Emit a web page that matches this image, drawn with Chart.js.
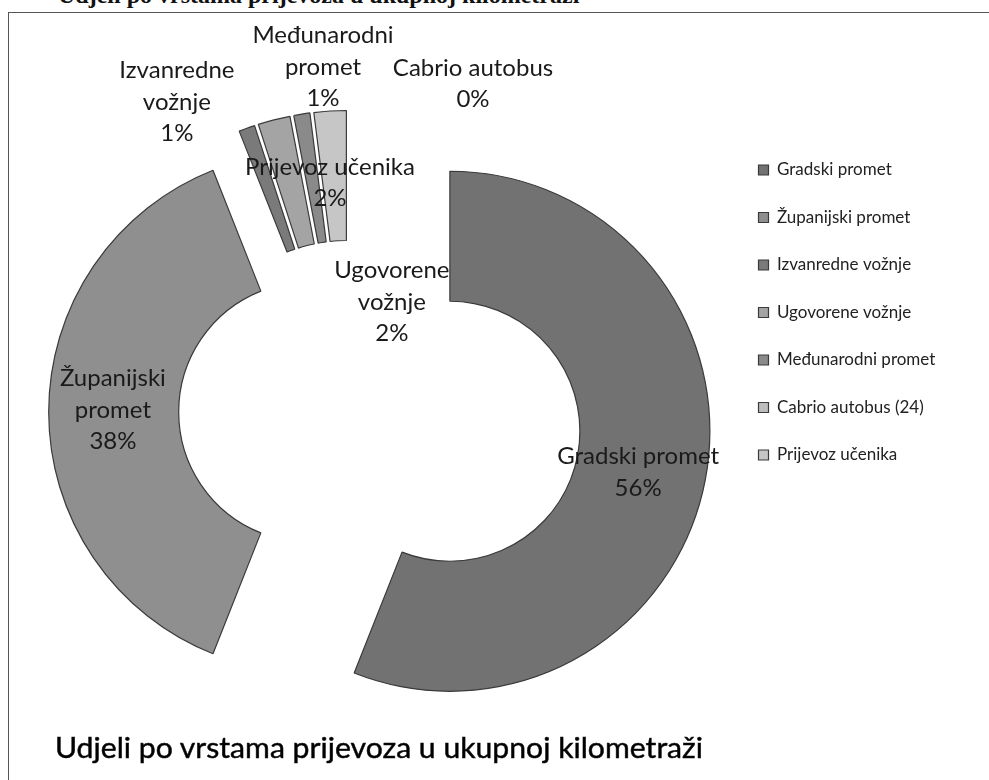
<!DOCTYPE html>
<html lang="hr">
<head>
<meta charset="UTF-8">
<title>Udjeli po vrstama prijevoza u ukupnoj kilometraži</title>
<script src="https://cdn.jsdelivr.net/npm/chart.js"></script>
<style>
  * { margin: 0; padding: 0; box-sizing: border-box; }
  html, body { width: 989px; height: 780px; overflow: hidden; background: #fff; }
  body { position: relative; font-family: 'Lato', sans-serif; }

  /* cut-off document heading above the chart frame */
  .doc-heading {
    position: absolute; left: 58px; top: -17px;
    font: bold 24px/24px 'Liberation Serif', serif; color: #111; white-space: nowrap;
  }
  .frame {
    position: absolute; left: 8px; top: 12px; width: 1000px; height: 800px;
    border: 1.5px solid #555;
  }
  .chart-box { position: absolute; left: -30px; top: 13px; width: 1000px; height: 767px; }
  .caption {
    position: absolute; left: 55px; top: 730px;
    font: 29px/34px 'Lato', sans-serif; color: #000; white-space: nowrap;
    -webkit-text-stroke: 0.5px #111;
    transform-origin: left center;
  }
</style>
</head>
<body>
  <div class="doc-heading">Udjeli po vrstama prijevoza u ukupnoj kilometraži</div>
  <div class="frame"></div>
  <div class="chart-box"><canvas id="kmChart"></canvas></div>
  <div class="caption" id="caption">Udjeli po vrstama prijevoza u ukupnoj kilometraži</div>

<script>
  // categories (legend) and shares in percent
  const categories = ['Gradski promet', 'Županijski promet', 'Izvanredne vožnje', 'Ugovorene vožnje',
                      'Međunarodni promet', 'Cabrio autobus (24)', 'Prijevoz učenika'];
  const values = [56, 38, 1, 2, 1, 0, 2];
  // names as written in the data labels (wrapped)
  const labelNames = [['Gradski promet'], ['Županijski', 'promet'], ['Izvanredne', 'vožnje'],
                      ['Ugovorene', 'vožnje'], ['Međunarodni', 'promet'], ['Cabrio autobus'], ['Prijevoz učenika']];

  const sliceColors = ['#727272', '#8f8f8f', '#7a7a7a', '#a4a4a4', '#8a8a8a', '#bdbdbd', '#c6c6c6'];

  // pull slices out of the ring along their middle angle (fraction of the radius)
  const explodePlugin = {
    id: 'explode',
    afterDatasetUpdate(chart, args, opts) {
      args.meta.data.forEach((arc, i) => {
        const mid = (arc.startAngle + arc.endAngle) / 2;
        const d = (opts.amounts[i] || 0) * arc.outerRadius;
        arc.x += Math.cos(mid) * d;
        arc.y += Math.sin(mid) * d;
      });
    }
  };

  // category name + percentage next to each slice
  const sliceLabels = {
    id: 'sliceLabels',
    afterDatasetsDraw(chart, args, opts) {
      const { ctx, chartArea } = chart;
      const meta = chart.getDatasetMeta(0);
      const cx = (chartArea.left + chartArea.right) / 2;
      const cy = (chartArea.top + chartArea.bottom) / 2;
      const total = values.reduce((a, b) => a + b, 0);
      ctx.save();
      ctx.font = opts.font;
      ctx.fillStyle = opts.color;
      ctx.textAlign = 'center';
      ctx.textBaseline = 'middle';
      meta.data.forEach((arc, i) => {
        const r = arc.outerRadius;
        const [fx, fy] = opts.positions[i];
        const lines = labelNames[i].concat(Math.round(values[i] / total * 100) + '%');
        const x = cx + fx * r;
        const y0 = cy + fy * r - (lines.length - 1) * opts.lineHeight / 2;
        lines.forEach((t, k) => ctx.fillText(t, x, y0 + k * opts.lineHeight));
      });
      ctx.restore();
    }
  };

  const ctx = document.getElementById('kmChart').getContext('2d');
  const kmChart = new Chart(ctx, {
    type: 'doughnut',
    data: {
      labels: categories,
      datasets: [{
        data: values,
        backgroundColor: sliceColors,
        borderColor: '#3a3a3a',
        borderWidth: 1.2,
        clip: false
      }]
    },
    options: {
      responsive: true,
      maintainAspectRatio: false,
      animation: false,
      events: [],
      radius: 260,
      cutout: '50%',
      layout: { padding: { left: 0, right: 20, top: 118, bottom: 87 } },
      plugins: {
        legend: {
          position: 'right',
          align: 'start',
          labels: {
            boxWidth: 10,
            boxHeight: 10,
            padding: 30.5,
            color: '#222',
            font: { family: 'Lato', size: 17 }
          }
        },
        tooltip: { enabled: false },
        explode: { amounts: [0.395, 0.155, 0.16, 0.16, 0.16, 0.16, 0.16] },
        sliceLabels: {
          font: '24px Lato',
          color: '#1a1a1a',
          lineHeight: 31.5,
          positions: [[1.112, 0.231], [-0.908, -0.008], [-0.662, -1.192], [0.165, -0.423],
                      [-0.100, -1.327], [0.477, -1.262], [-0.073, -0.881]]
        }
      }
    },
    plugins: [explodePlugin, sliceLabels]
  });

  // put the legend's left edge where it sits in the original; the ring centre follows the chart area
  const legendLeft = 758;
  kmChart.options.layout.padding.right = kmChart.width - legendLeft - kmChart.legend.width;
  kmChart.update();

  // squeeze the caption to the width it has in the original
  const caption = document.getElementById('caption');
  const fitCaption = () => {
    const w = caption.getBoundingClientRect().width;
    caption.style.transform = 'scaleX(' + (648 / w) + ')';
  };
  if (document.fonts && document.fonts.ready) document.fonts.ready.then(fitCaption); else fitCaption();
</script>
</body>
</html>
